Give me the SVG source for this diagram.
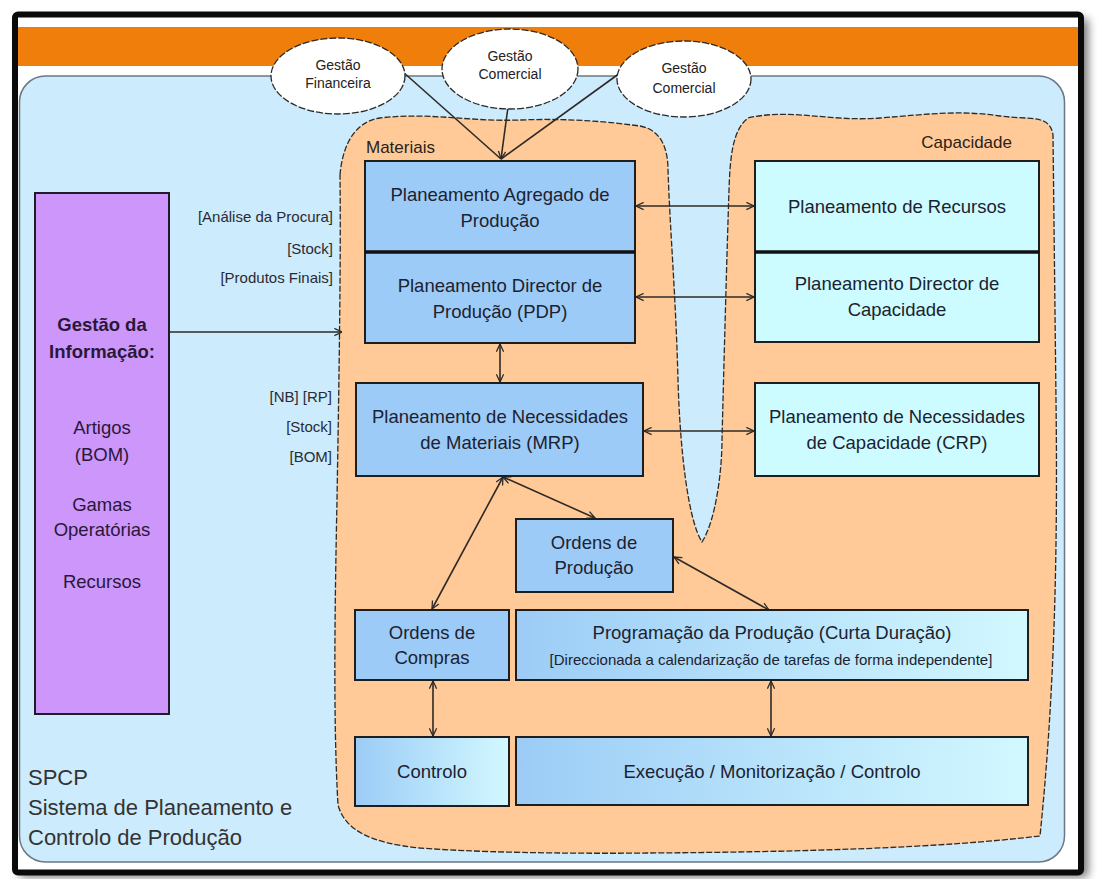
<svg xmlns="http://www.w3.org/2000/svg" width="1097" height="879" viewBox="0 0 1097 879">
  <defs>
    <filter id="shadow" x="-5%" y="-5%" width="110%" height="110%">
      <feGaussianBlur stdDeviation="5"/>
    </filter>
    <linearGradient id="gradBlue" x1="0" y1="0" x2="1" y2="0">
      <stop offset="0" stop-color="#9CCCF6"/>
      <stop offset="1" stop-color="#D2F8FF"/>
    </linearGradient>
    <marker id="arr" viewBox="0 0 10 10" refX="9.5" refY="5" markerWidth="9" markerHeight="9" markerUnits="userSpaceOnUse" orient="auto-start-reverse">
      <path d="M1,1 L9.5,5 L1,9" fill="none" stroke="#2a2a2a" stroke-width="1.4"/>
    </marker>
    <style>
      .box { stroke: #1e1e1e; stroke-width: 2; }
      .mat { fill: #9DCBF7; }
      .cap { fill: #CCFCFF; }
      .grad { fill: url(#gradBlue); }
      .t { font-family: "Liberation Sans", Arial, sans-serif; font-size: 18.5px; fill: #1c2230; text-anchor: middle; }
      .ts { font-family: "Liberation Sans", Arial, sans-serif; font-size: 15px; fill: #1c2230; text-anchor: middle; }
      .tp { font-family: "Liberation Sans", Arial, sans-serif; font-size: 18.5px; fill: #2a1838; text-anchor: middle; }
      .lbl { font-family: "Liberation Sans", Arial, sans-serif; font-size: 15px; fill: #2a2a33; text-anchor: end; }
      .ell { fill: #ffffff; stroke: #2a2a2a; stroke-width: 1.3; stroke-dasharray: 7 2; }
      .et { font-family: "Liberation Sans", Arial, sans-serif; font-size: 14px; fill: #222; text-anchor: middle; }
      .con { fill: none; stroke: #2e2a26; stroke-width: 1.6; }
      .thick { stroke: #111; stroke-width: 3.5; }
      .sp { font-family: "Liberation Sans", Arial, sans-serif; font-size: 22px; fill: #333; }
    </style>
  </defs>

  <!-- page and framed panel -->
  <rect x="0" y="0" width="1097" height="879" fill="#ffffff"/>
  <rect x="20" y="19" width="1068" height="858" fill="#000" opacity="0.55" filter="url(#shadow)"/>
  <rect x="15" y="14.5" width="1066" height="858" rx="3" fill="#ffffff" stroke="#0a0a0a" stroke-width="6"/>
  <rect x="18" y="27" width="1060" height="39" fill="#F07E0A"/>

  <!-- SPCP system boundary -->
  <g id="spcp">
    <rect x="19.5" y="76" width="1045" height="786" rx="26" fill="#CCEBFC" stroke="#6b7785" stroke-width="1.5"/>
    <text class="sp" x="28" y="785">SPCP</text>
    <text class="sp" x="28" y="815">Sistema de Planeamento e</text>
    <text class="sp" x="28" y="845">Controlo de Produção</text>
  </g>

  <!-- Materials / capacity area -->
  <g id="areas">
    <path d="M 340,175 C 342,150 352,122 380,118 C 430,112 470,122 520,120 C 570,118 610,122 640,126 C 662,130 668,150 668,170 C 670,230 676,300 678,380 C 680,450 688,520 702,542 C 716,520 722,470 722,440 C 724,360 727,250 729,190 C 730,160 732,130 748,118 C 790,108 830,122 880,118 C 930,114 960,110 1000,116 C 1030,120 1050,114 1053,135 L 1056,400 C 1058,560 1054,700 1040,836 C 940,848 800,852 650,853 C 560,854 470,852 420,848 C 370,843 345,830 338,805 C 333,720 335,600 337,500 C 339,380 341,260 340,175 Z" fill="#FFCA98" stroke="#2e2a26" stroke-width="1.3" stroke-dasharray="6 2"/>
    <text x="366" y="153" font-family="Liberation Sans, Arial, sans-serif" font-size="17" fill="#2a2218">Materiais</text>
    <text x="1012" y="148" font-family="Liberation Sans, Arial, sans-serif" font-size="17" fill="#2a2218" text-anchor="end">Capacidade</text>
  </g>

  <!-- connectors -->
  <g id="connectors">
    <line class="con" x1="403" y1="72" x2="501" y2="159"/>
    <line class="con" x1="620" y1="73" x2="501" y2="159"/>
    <line class="con" x1="508" y1="107" x2="501" y2="159" marker-end="url(#arr)"/>
    <line class="con" x1="169" y1="332" x2="342" y2="332" marker-end="url(#arr)"/>
    <line class="con" x1="636" y1="206" x2="754" y2="206" marker-start="url(#arr)" marker-end="url(#arr)"/>
    <line class="con" x1="636" y1="297" x2="754" y2="297" marker-start="url(#arr)" marker-end="url(#arr)"/>
    <line class="con" x1="500" y1="344" x2="500" y2="382" marker-start="url(#arr)" marker-end="url(#arr)"/>
    <line class="con" x1="644" y1="431" x2="754" y2="431" marker-start="url(#arr)" marker-end="url(#arr)"/>
    <line class="con" x1="503" y1="477" x2="432" y2="609" marker-start="url(#arr)" marker-end="url(#arr)"/>
    <line class="con" x1="503" y1="477" x2="595" y2="518" marker-start="url(#arr)" marker-end="url(#arr)"/>
    <line class="con" x1="674" y1="557" x2="769" y2="610" marker-start="url(#arr)" marker-end="url(#arr)"/>
    <line class="con" x1="433" y1="681" x2="433" y2="736" marker-start="url(#arr)" marker-end="url(#arr)"/>
    <line class="con" x1="771" y1="681" x2="771" y2="736" marker-start="url(#arr)" marker-end="url(#arr)"/>
  </g>

  <!-- external management ellipses -->
  <g id="gestao-financeira">
    <ellipse class="ell" cx="338" cy="76" rx="67" ry="38"/>
    <text class="et" x="338" y="70">Gestão</text>
    <text class="et" x="338" y="88">Financeira</text>
  </g>
  <g id="gestao-comercial-1">
    <ellipse class="ell" cx="510" cy="69" rx="68" ry="40"/>
    <text class="et" x="510" y="61">Gestão</text>
    <text class="et" x="510" y="79">Comercial</text>
  </g>
  <g id="gestao-comercial-2">
    <ellipse class="ell" cx="684" cy="79" rx="67" ry="38"/>
    <text class="et" x="684" y="73">Gestão</text>
    <text class="et" x="684" y="93">Comercial</text>
  </g>

  <!-- information management -->
  <g id="gestao-informacao">
    <rect x="35" y="193" width="134" height="521" fill="#CC96FA" stroke="#221a2a" stroke-width="2"/>
    <text class="tp" x="102" y="331" font-weight="bold">Gestão da</text>
    <text class="tp" x="102" y="358" font-weight="bold">Informação:</text>
    <text class="tp" x="102" y="434">Artigos</text>
    <text class="tp" x="102" y="461">(BOM)</text>
    <text class="tp" x="102" y="511">Gamas</text>
    <text class="tp" x="102" y="536">Operatórias</text>
    <text class="tp" x="102" y="588">Recursos</text>
  </g>

  <g id="labels">
    <text class="lbl" x="333" y="222">[Análise da Procura]</text>
    <text class="lbl" x="333" y="254">[Stock]</text>
    <text class="lbl" x="333" y="283">[Produtos Finais]</text>
    <text class="lbl" x="332" y="402">[NB] [RP]</text>
    <text class="lbl" x="332" y="432">[Stock]</text>
    <text class="lbl" x="332" y="462">[BOM]</text>
  </g>

  <!-- materials planning -->
  <g id="app">
    <rect class="box mat" x="365" y="161" width="270" height="91"/>
    <text class="t" x="500" y="201">Planeamento Agregado de</text>
    <text class="t" x="500" y="227">Produção</text>
  </g>
  <g id="pdp">
    <rect class="box mat" x="365" y="252" width="270" height="91"/>
    <text class="t" x="500" y="292">Planeamento Director de</text>
    <text class="t" x="500" y="318">Produção (PDP)</text>
  </g>
  <line class="thick" x1="365" y1="252" x2="635" y2="252"/>
  <g id="mrp">
    <rect class="box mat" x="356" y="383" width="287" height="93"/>
    <text class="t" x="500" y="423">Planeamento de Necessidades</text>
    <text class="t" x="500" y="449">de Materiais (MRP)</text>
  </g>

  <!-- capacity planning -->
  <g id="planeamento-recursos">
    <rect class="box cap" x="755" y="161" width="284" height="91"/>
    <text class="t" x="897" y="213">Planeamento de Recursos</text>
  </g>
  <g id="planeamento-director-capacidade">
    <rect class="box cap" x="755" y="252" width="284" height="90"/>
    <text class="t" x="897" y="290">Planeamento Director de</text>
    <text class="t" x="897" y="316">Capacidade</text>
  </g>
  <line class="thick" x1="755" y1="252" x2="1039" y2="252"/>
  <g id="crp">
    <rect class="box cap" x="755" y="383" width="284" height="93"/>
    <text class="t" x="897" y="423">Planeamento de Necessidades</text>
    <text class="t" x="897" y="449">de Capacidade (CRP)</text>
  </g>

  <!-- orders and execution -->
  <g id="ordens-producao">
    <rect class="box mat" x="516" y="519" width="157" height="73"/>
    <text class="t" x="594" y="549">Ordens de</text>
    <text class="t" x="594" y="574">Produção</text>
  </g>
  <g id="ordens-compras">
    <rect class="box mat" x="355" y="610" width="154" height="70"/>
    <text class="t" x="432" y="639">Ordens de</text>
    <text class="t" x="432" y="664">Compras</text>
  </g>
  <g id="programacao">
    <rect class="box grad" x="516" y="610" width="512" height="70"/>
    <text class="t" x="772" y="639">Programação da Produção (Curta Duração)</text>
    <text class="ts" x="771" y="665">[Direccionada a calendarização de tarefas de forma independente]</text>
  </g>
  <g id="controlo">
    <rect class="box grad" x="355" y="737" width="154" height="69"/>
    <text class="t" x="432" y="778">Controlo</text>
  </g>
  <g id="execucao">
    <rect class="box grad" x="516" y="737" width="512" height="68"/>
    <text class="t" x="772" y="778">Execução / Monitorização / Controlo</text>
  </g>
</svg>
